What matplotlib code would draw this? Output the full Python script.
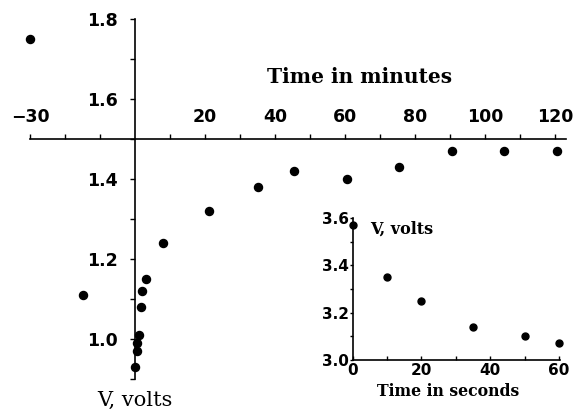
import matplotlib
matplotlib.use('Agg')
import matplotlib.pyplot as plt
from matplotlib.ticker import MultipleLocator, FixedLocator

# main chart: time in minutes vs V
t_min = [-30, -15, 0, 0.5, 0.7, 1.2, 1.7, 2.1, 3.0, 8, 21, 35, 45.5, 60.5, 75.5, 90.5, 105.5, 120.5]
v_min = [1.75, 1.11, 0.93, 0.97, 0.99, 1.01, 1.08, 1.12, 1.15, 1.24, 1.32, 1.38, 1.42, 1.40, 1.43, 1.47, 1.47, 1.47]
xlabels_main = [-30, 20, 40, 60, 80, 100, 120]
ylabels_main = [1.0, 1.2, 1.4, 1.6, 1.8]

# inset: time in seconds vs V
t_sec = [0, 10, 20, 35, 50, 60]
v_sec = [3.57, 3.35, 3.25, 3.14, 3.10, 3.07]

W, H = 579, 413
fig = plt.figure(figsize=(W / 100, H / 100), dpi=100)

def frac(x0, y0, x1, y1):
    # pixel box (top-left origin) -> figure fraction rect
    return [x0 / W, 1 - y1 / H, (x1 - x0) / W, (y1 - y0) / H]

ax = fig.add_axes(frac(30, 19, 565.5, 379))
ax.set_xlim(-30, 123)
ax.set_ylim(0.9, 1.8)
ax.plot(t_min, v_min, 'o', color='black', ms=5.8, clip_on=False)

for s in ['bottom', 'right']:
    ax.spines[s].set_visible(False)
ax.spines['top'].set_position(('data', 1.5))
ax.spines['left'].set_position(('data', 0))
ax.spines['top'].set_linewidth(1.2)
ax.spines['left'].set_linewidth(1.2)

ax.xaxis.set_ticks_position('top')
ax.xaxis.set_major_locator(FixedLocator(xlabels_main))
ax.xaxis.set_minor_locator(FixedLocator([-20, -10, 10, 30, 50, 70, 90, 110]))
ax.set_xticklabels([str(v).replace('-', '\u2212') for v in xlabels_main])
ax.tick_params(axis='x', which='both', direction='out', length=3.5, width=1, pad=6, labelsize=12.5)

ax.yaxis.set_major_locator(FixedLocator(ylabels_main))
ax.yaxis.set_minor_locator(FixedLocator([0.9, 1.1, 1.3, 1.5, 1.7]))
ax.set_yticklabels(['%.1f' % v for v in ylabels_main])
ax.tick_params(axis='y', which='both', direction='out', length=3.5, width=1, pad=9, labelsize=12.5)
for lab in ax.get_xticklabels() + ax.get_yticklabels():
    lab.set_fontweight('bold')
ax.patch.set_alpha(0)

fig.text(360 / W, 1 - 77 / H, 'Time in minutes', ha='center', va='center',
         family='DejaVu Serif', fontsize=14.5, fontweight='bold')
fig.text(135 / W, 1 - 400 / H, 'V, volts', ha='center', va='center',
         family='DejaVu Serif', fontsize=15)

# inset
ins = fig.add_axes(frac(352.7, 218, 560, 360))
ins.set_xlim(0, 60.3)
ins.set_ylim(3.0, 3.6)
ins.plot(t_sec, v_sec, 'o', color='black', ms=5, clip_on=False)
for s in ['top', 'right']:
    ins.spines[s].set_visible(False)
ins.spines['left'].set_linewidth(1.2)
ins.spines['bottom'].set_linewidth(1.2)
ins.xaxis.set_major_locator(MultipleLocator(20))
ins.xaxis.set_minor_locator(MultipleLocator(10))
ins.yaxis.set_major_locator(MultipleLocator(0.2))
ins.yaxis.set_minor_locator(MultipleLocator(0.1))
ins.yaxis.set_major_formatter(plt.FormatStrFormatter('%.1f'))
ins.tick_params(axis='x', which='both', direction='in', length=3, width=1, pad=2, labelsize=11)
ins.tick_params(axis='y', which='both', direction='out', length=2, width=1, pad=1, labelsize=11)
for lab in ins.get_xticklabels() + ins.get_yticklabels():
    lab.set_fontweight('bold')
ins.patch.set_alpha(0)

fig.text(370 / W, 1 - 229 / H, 'V, volts', ha='left', va='center',
         family='DejaVu Serif', fontsize=11.5, fontweight='bold')
fig.text(448 / W, 1 - 392 / H, 'Time in seconds', ha='center', va='center',
         family='DejaVu Serif', fontsize=11.3, fontweight='bold')

fig.savefig('out.png', dpi=100)
